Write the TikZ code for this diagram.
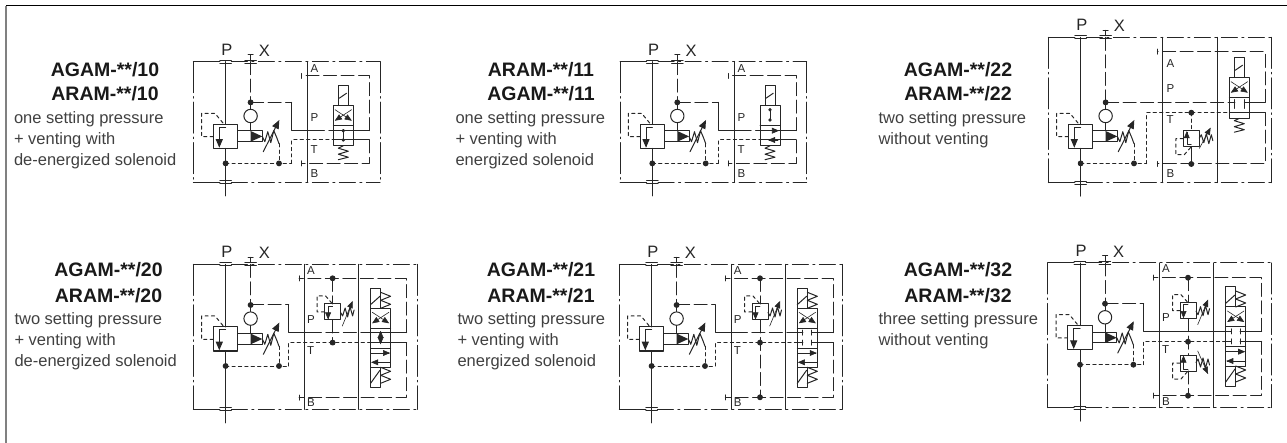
\documentclass[tikz,border=0pt]{standalone}
\usepackage{fontspec}
\setmainfont{Liberation Sans}
\usetikzlibrary{arrows}

% frame of one block, with dash-dot edges
\newcommand{\blockframe}[3]{
\draw (26.5,#1) -- (0,#1);
\draw (26.5,#2) -- (0,#2);
\draw[phantomlong] (0,#1) -- (0,#2);
\draw[phantom] (38,#1) -- (#3,#1);
\draw[phantom] (38,#2) -- (#3,#2);
\draw[phantomlong] (#3,#1) -- (#3,#2);
}
% main valve with ports P, X, T and the pilot stage
\newcommand{\mainvalve}[4]{
\draw (32.3,#2) -- (32.3,62.7);
\draw (32.3,86.7) -- (32.3,#3+13.5);
\foreach \s in {-1.6,1.6}
{
\draw (26.5,#2+\s) -- (38,#2+\s);
\draw (26.5,#3+\s) -- (38,#3+\s);
\draw (51.5,#2+\s) -- (63,#2+\s);
}
\draw (57.3,#2-1.6) -- (57.3,#2-7);
\draw (54.8,#2-7) -- (59.8,#2-7);
\node (#1P) [portlabel,anchor=base] at (33.5,#2-6.5) {P};
\node (#1X) [portlabel,anchor=base] at (71,#2-5.5) {X};
\draw[longdash] (57.3,#2) -- (57.3,40.7);
\draw (57.3,40.7) -- (57.3,69.3);
\draw[fill=white] (57.3,54.3) circle [radius = 6.7];
\draw (20,62.7) rectangle (44.3,86.7);
\draw[->] (32.3,65.5) -- (26,65.5) -- (26,86);
\draw (44.3,69.3) rectangle (69,80);
\fill (57.3,69.3) -- (69,74.7) -- (57.3,80) -- cycle;
%pilot line of the main stage
\draw[drain] (20,75) -- (8.3,75) -- (8.3,51.7) -- (21.7,51.7) -- (30,61.7);
%spring and its arrow
\draw (69,74.7) -- (71.5,80) -- (74.5,70) -- (77.5,81) -- (80.5,69) -- (83.5,76) -- (85.7,82);
\draw[->] (70,90) -- (86,58.3);
%drain
\draw[drain] (85.7,82) -- (85.7,101.7);
\draw[drain] (32.3,101.7) -- (#4,101.7);
\draw[fill] (32.3,101.7) circle [radius = 2.4pt];
\draw[fill] (85.7,101.7) circle [radius = 2.4pt];
\draw[fill] (57.3,40.7) circle [radius = 2.4pt];
}
% small relief valve, (0,0) is the middle of its top edge
\newcommand{\reliefvalve}[2]{
\draw (-8,0) rectangle (8,16);
\draw[thinhead,->] (0,2) -- (-4.5,2) -- (-4.5,15.5);
\draw[drain] (-8,8) -- (-15.5,8) -- (-15.5,-8) -- (-7,-8) -- (0,0);
\draw (8,8.5) -- (10,12) -- (12.5,4) -- (15,13) -- (17.5,3) -- (20,12) -- (21.5,6);
\draw[thinhead,->] #1 -- #2;
}
% crossed arrows of the upper box
\newcommand{\crossarrows}{
\draw[thinhead,->] (1.7,4) -- (18.5,15);
\draw[thinhead,->] (18.3,4) -- (1.5,15);
}
% valve with two solenoids
\newcommand{\doublesolenoid}[1]{
\begin{scope}[shift={(#1,44)}]
\draw (0,-20) rectangle (10,0);
\draw (0,-3.7) -- (9.3,-12);
\draw (10,0) -- (20,-4) -- (10,-8) -- (20,-12) -- (10,-16);
\draw (0,0) rectangle (20,59);
\draw (0,20) -- (20,20);
\draw (0,40) -- (20,40);
\crossarrows
\draw[thinhead,->] (0,44.7) -- (19.5,44.7);
\draw[thinhead,->] (20,54) -- (0.5,54);
\draw (0,59) rectangle (10,79);
\draw (0,75) -- (9.3,62);
\draw (10,59) -- (20,63) -- (10,67) -- (20,71) -- (10,75);
\end{scope}
}
% letters A P T B
\newcommand{\portletters}[6]{
\node (#1A) [smalllabel] at (#2,#3) {A};
\node (#1Q) [smalllabel] at (#2,#4) {P};
\node (#1T) [smalllabel] at (#2,#5) {T};
\node (#1B) [smalllabel] at (#2,#6) {B};
}

\begin{document}
\begin{tikzpicture}[line cap=round,line join=round,>=triangle 45,x=1pt,y=-1pt,color=black!85,line width=1pt,
longdash/.style={dash pattern=on 13pt off 4.5pt},
drain/.style={dash pattern=on 3.2pt off 3.2pt},
phantom/.style={dash pattern=on 16pt off 4.5pt on 2pt off 4.5pt},
phantomlong/.style={dash pattern=on 31pt off 4pt on 1.5pt off 4pt},
thinhead/.style={line width=0.6pt},
heading/.style={font=\fontsize{19.5}{22}\bfseries\selectfont,inner sep=0pt,anchor=base,color=black!90},
explain/.style={font=\fontsize{16.5}{21}\selectfont,inner sep=0pt,anchor=north west,align=left,color=black!75},
portlabel/.style={font=\fontsize{16.5}{17}\selectfont,inner sep=0pt},
smalllabel/.style={font=\fontsize{11.5}{12}\selectfont,inner sep=0pt,anchor=base west}]
\useasboundingbox (0,0) rectangle (1287,443);
%outer lines
\draw[color=gray,line width=1.5pt,line cap=butt] (6,443) -- (6,6);
\draw[color=black,line cap=butt] (6,6) -- (1287,6);

%texts, first row
\node (titleAa) [heading] at (105,77) {AGAM-**/10};
\node (titleAb) [heading] at (105,101) {ARAM-**/10};
\node (textA) [explain] at (13.5,108.3) {\strut one setting pressure\\+ venting with\\de-energized solenoid};
\node (titleBa) [heading] at (541,77) {ARAM-**/11};
\node (titleBb) [heading] at (541,101) {AGAM-**/11};
\node (textB) [explain] at (455,108.3) {\strut one setting pressure\\+ venting with\\energized solenoid};
\node (titleCa) [heading] at (958,77) {AGAM-**/22};
\node (titleCb) [heading] at (958,101) {ARAM-**/22};
\node (textC) [explain] at (878,108.3) {\strut two setting pressure\\without venting};
%texts, second row
\node (titleDa) [heading] at (108.5,277) {AGAM-**/20};
\node (titleDb) [heading] at (108.5,302.5) {ARAM-**/20};
\node (textD) [explain] at (14,309.3) {\strut two setting pressure\\+ venting with\\de-energized solenoid};
\node (titleEa) [heading] at (541,277) {AGAM-**/21};
\node (titleEb) [heading] at (541,302.5) {ARAM-**/21};
\node (textE) [explain] at (457,309.3) {\strut two setting pressure\\+ venting with\\energized solenoid};
\node (titleFa) [heading] at (958,277) {AGAM-**/32};
\node (titleFb) [heading] at (958,302.5) {ARAM-**/32};
\node (textF) [explain] at (878,309.3) {\strut three setting pressure\\without venting};

%block 10
\begin{scope}[shift={(193.3,61.7)}]
\blockframe{0}{120.7}{186.7}
\mainvalve{a}{0}{120.7}{98.3}
\draw (114,0) -- (114,120.7);
\portletters{a}{116.7}{10.7}{60}{91.7}{116}
\draw[longdash] (57.3,40.7) -- (98.3,40.7);
\draw (98.3,40.7) -- (98.3,69) -- (118,69);
\draw[longdash] (118,69) -- (140,69);
\draw (140,69) -- (176,69);
\draw[longdash] (176,69) -- (176,14.3) -- (108.3,14.3);
\draw (108.3,11.8) -- (108.3,16.8);
\draw[drain] (98.3,101.7) -- (98.3,78.3) -- (140,78.3);
\draw (140,78.3) -- (176,78.3);
\draw[longdash] (176,78.3) -- (176,101.7) -- (108.3,101.7);
\draw (108.3,99.2) -- (108.3,104.2);
\begin{scope}[shift={(140,44)}]
\draw (5,-20) rectangle (15,0);
\draw (6,-7.5) -- (13.3,-12.5);
\draw (0,0) rectangle (20,40);
\draw (0,20) -- (20,20);
\crossarrows
\draw (10,25) -- (10,34.3);
\draw[fill] (10,25) circle [radius = 1.2pt];
\draw[fill] (10,34.3) circle [radius = 1.2pt];
\draw (10,40) -- (5,42.5) -- (15,45.5) -- (5,48.5) -- (15,51.5) -- (5,54);
\end{scope}
\end{scope}

%block 11
\begin{scope}[shift={(620,61.7)}]
\blockframe{0}{120.7}{186.7}
\mainvalve{b}{0}{120.7}{98.3}
\draw (114.3,0) -- (114.3,120.7);
\portletters{b}{117}{10.7}{60}{91.7}{116}
\draw[longdash] (57.3,40.7) -- (98.3,40.7);
\draw (98.3,40.7) -- (98.3,69) -- (118,69);
\draw[longdash] (118,69) -- (140,69);
\draw (140,69) -- (176,69);
\draw[longdash] (176,69) -- (176,14.3) -- (108.3,14.3);
\draw (108.3,11.8) -- (108.3,16.8);
\draw[drain] (98.3,101.7) -- (98.3,78.3) -- (140,78.3);
\draw (140,78.3) -- (176,78.3);
\draw[longdash] (176,78.3) -- (176,101.7) -- (108.3,101.7);
\draw (108.3,99.2) -- (108.3,104.2);
\begin{scope}[shift={(140,44)}]
\draw (5,-20) rectangle (15,0);
\draw (6,-7.5) -- (13.3,-12.5);
\draw (0,0) rectangle (20,40);
\draw (0,20) -- (20,20);
\draw (10,4) -- (10,14.3);
\draw[fill] (10,4) circle [radius = 1.2pt];
\draw[fill] (10,14.3) circle [radius = 1.2pt];
\draw[thinhead,->] (10,25) -- (19,25);
\draw[thinhead,->] (18,34.3) -- (8,34.3);
\draw (10,40) -- (5,42.5) -- (15,45.5) -- (5,48.5) -- (15,51.5) -- (5,54);
\end{scope}
\end{scope}

%block 22
\begin{scope}[shift={(1048.3,61.7)}]
\blockframe{-24.4}{121}{223.4}
\mainvalve{c}{-24.4}{121}{98.3}
\draw (114.3,-24.4) -- (114.3,121);
\draw (168.7,-24.4) -- (168.7,121);
\portletters{c}{117.7}{6}{30.7}{61.7}{115.7}
\draw[longdash] (57.3,40.7) -- (181,40.7);
\draw (201,40.7) -- (216.7,40.7);
\draw[longdash] (216.7,40.7) -- (216.7,-10) -- (109,-10);
\draw (109,-12.5) -- (109,-7.5);
\draw[drain] (98.3,102) -- (98.3,51) -- (181,51);
\draw (181,51) -- (216.7,51);
\draw[longdash] (216.7,51) -- (216.7,102.3) -- (109,102.3);
\draw (109,99.8) -- (109,104.8);
\draw[drain] (143,51) -- (143,69);
\draw (143,85) -- (143,102.3);
\begin{scope}[shift={(143,85)},yscale=-1]
\reliefvalve{(8,-1.7)}{(19.3,19)}
\end{scope}
\draw[fill] (143,51) circle [radius = 2.4pt];
\draw[fill] (143,102.3) circle [radius = 2.4pt];
\begin{scope}[shift={(181,16)}]
\draw (5,-20) rectangle (15,0);
\draw (6,-7.5) -- (13.3,-12.5);
\draw (0,0) rectangle (20,40.7);
\draw (0,20) -- (20,20);
\crossarrows
\draw (5.5,22) -- (5.5,30.7);
\draw (15,22) -- (15,30.7);
\draw (0,24.7) -- (5.5,24.7);
\draw (15,24.7) -- (20,24.7);
\draw (10,40.7) -- (5,43) -- (15,46) -- (5,49) -- (15,52) -- (5,54.5);
\end{scope}
\end{scope}

%block 20
\begin{scope}[shift={(193.3,264.3)}]
\blockframe{0}{145}{224}
\mainvalve{d}{0}{145}{95.3}
\draw (111.3,0) -- (111.3,145);
\draw (165.3,0) -- (165.3,145);
\portletters{d}{113.3}{10}{59}{90.7}{142}
\draw[longdash] (57.3,40.7) -- (95.3,40.7);
\draw (95.3,40.7) -- (95.3,68.3) -- (115,68.3);
\draw[longdash] (115,68.3) -- (177.3,68.3);
\draw (177.3,68.3) -- (213.3,68.3);
\draw[longdash] (213.3,68.3) -- (213.3,14) -- (105.7,14);
\draw (105.7,11.5) -- (105.7,16.5);
\draw[drain] (95.3,101.7) -- (95.3,78.3) -- (177.3,78.3);
\draw (177.3,78.3) -- (213.3,78.3);
\draw[longdash] (213.3,78.3) -- (213.3,133.3) -- (105.7,133.3);
\draw (105.7,130.8) -- (105.7,135.8);
\draw[longdash] (139.3,14) -- (139.3,39.7);
\draw[longdash] (139.3,55.7) -- (139.3,78.3);
\begin{scope}[shift={(139.3,39.7)}]
\reliefvalve{(9.7,22)}{(20,-3)}
\end{scope}
\draw[fill] (139.3,14) circle [radius = 2.4pt];
\draw[fill] (139.3,78.3) circle [radius = 2.4pt];
\doublesolenoid{177.3}
\draw[thinhead,<->] (187.3,66.5) -- (187.3,80);
\end{scope}

%block 21
\begin{scope}[shift={(619.3,264.3)}]
\blockframe{0}{145}{223.4}
\mainvalve{e}{0}{145}{96}
\draw (112,0) -- (112,145);
\draw (166,0) -- (166,145);
\portletters{e}{114}{10}{59}{90.7}{142}
\draw[longdash] (57.3,40.7) -- (96,40.7);
\draw (96,40.7) -- (96,68.3) -- (115,68.3);
\draw[longdash] (115,68.3) -- (178,68.3);
\draw (198,68.3) -- (214,68.3);
\draw[longdash] (214,68.3) -- (214,14) -- (106,14);
\draw (106,11.5) -- (106,16.5);
\draw[drain] (96,101.7) -- (96,78.3) -- (178,78.3);
\draw (198,78.3) -- (214,78.3);
\draw[longdash] (214,78.3) -- (214,133) -- (106,133);
\draw (106,130.5) -- (106,135.5);
\draw[longdash] (140.7,14) -- (140.7,39.7);
\draw[longdash] (140.7,55.7) -- (140.7,133);
\begin{scope}[shift={(140.7,39.7)}]
\reliefvalve{(9.7,22)}{(20,-3)}
\end{scope}
\draw[fill] (140.7,14) circle [radius = 2.4pt];
\draw[fill] (140.7,78.3) circle [radius = 2.4pt];
\draw[fill] (140.7,133) circle [radius = 2.4pt];
\doublesolenoid{178}
\foreach \y in {68.3,78.3}
{
\draw (178,\y) -- (183.5,\y);
\draw (183.5,\y-2.5) -- (183.5,\y+2.5);
\draw (192.5,\y) -- (198,\y);
\draw (192.5,\y-2.5) -- (192.5,\y+2.5);
}
\end{scope}

%block 32
\begin{scope}[shift={(1047.7,263)}]
\blockframe{0}{144.7}{224}
\mainvalve{f}{0}{144.7}{96}
\draw (111.7,0) -- (111.7,144.7);
\draw (166,0) -- (166,144.7);
\portletters{f}{114}{10}{59}{90.7}{142}
\draw[longdash] (57.3,40.7) -- (96,40.7);
\draw (96,40.7) -- (96,68.3) -- (178,68.3);
\draw (198,68.3) -- (214,68.3);
\draw[longdash] (214,68.3) -- (214,14.7) -- (106,14.7);
\draw (106,12.2) -- (106,17.2);
\draw[drain] (96,101.7) -- (96,78.3) -- (178,78.3);
\draw (198,78.3) -- (214,78.3);
\draw[longdash] (214,78.3) -- (214,132.7) -- (106,132.7);
\draw (106,130.2) -- (106,135.2);
\draw[longdash] (140.3,14.7) -- (140.3,39.7);
\draw[longdash] (140.3,55.7) -- (140.3,92);
\draw[longdash] (140.3,108) -- (140.3,132.7);
\begin{scope}[shift={(140.3,39.7)}]
\reliefvalve{(9.7,22)}{(20,-3)}
\end{scope}
\begin{scope}[shift={(140.3,108)},yscale=-1]
\reliefvalve{(9.7,20)}{(20,-3)}
\end{scope}
\draw[fill] (140.3,14.7) circle [radius = 2.4pt];
\draw[fill] (140.3,78.7) circle [radius = 2.4pt];
\draw[fill] (140.3,132.7) circle [radius = 2.4pt];
\doublesolenoid{178}
\foreach \y in {68.3,78.3}
{
\draw (178,\y) -- (183.5,\y);
\draw (183.5,\y-2.5) -- (183.5,\y+2.5);
\draw (192.5,\y) -- (198,\y);
\draw (192.5,\y-2.5) -- (192.5,\y+2.5);
}
\end{scope}
\end{tikzpicture}
\end{document}
